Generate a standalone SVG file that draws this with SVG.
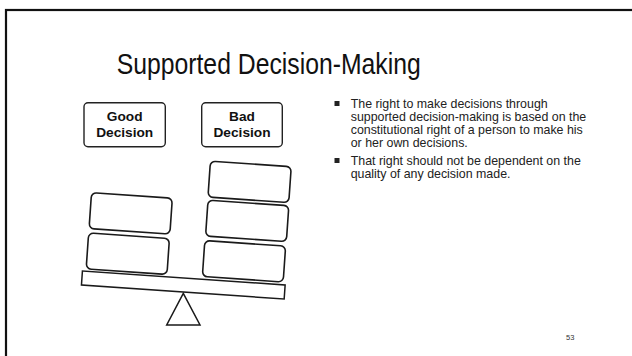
<svg xmlns="http://www.w3.org/2000/svg" width="632" height="356" viewBox="0 0 632 356">
  <style>
    .frame { fill: none; stroke: #111; stroke-width: 2.2; }
    .title { font-family: "Liberation Sans", Arial, sans-serif; font-size: 30px; fill: #111; }
    .label-box { fill: #fff; stroke: #222; stroke-width: 1.4; }
    .label { font-family: "Liberation Sans", Arial, sans-serif; font-size: 13.7px; font-weight: bold; fill: #111; text-anchor: middle; }
    .block { fill: #fff; stroke: #1a1a1a; stroke-width: 1.6; }
    .beam { fill: #fff; stroke: #1a1a1a; stroke-width: 1.5; }
    .body { font-family: "Liberation Sans", Arial, sans-serif; font-size: 12.4px; fill: #222; }
    .bullet { fill: #222; }
    .page { font-family: "Liberation Sans", Arial, sans-serif; font-size: 7.5px; fill: #333; }
  </style>

  <rect width="632" height="356" fill="#fff"/>
  <!-- slide frame, open to the right and bottom -->
  <rect class="frame" x="6" y="10" width="640" height="360"/>

  <text class="title" x="116.7" y="74" textLength="304" lengthAdjust="spacingAndGlyphs">Supported Decision-Making</text>

  <!-- scale labels -->
  <g id="good-decision">
    <rect class="label-box" x="84" y="102.7" width="81.3" height="44" rx="4"/>
    <text class="label" x="124.7" y="120.7">Good</text>
    <text class="label" x="124.7" y="136.7">Decision</text>
  </g>
  <g id="bad-decision">
    <rect class="label-box" x="201.7" y="102.7" width="80.6" height="44" rx="4"/>
    <text class="label" x="242" y="120.7">Bad</text>
    <text class="label" x="242" y="136.7">Decision</text>
  </g>

  <!-- balance: fulcrum, tilted beam, stacked weights -->
  <g id="fulcrum">
    <polygon class="beam" points="183.3,293.3 166.7,325 200,325"/>
  </g>
  <g id="beam">
    <rect class="beam" x="-101.6" y="-7" width="203.2" height="14" transform="translate(183.3,285) rotate(3.95)"/>
  </g>
  <g id="left-weight-1">
    <rect class="block" x="-40.5" y="-18" width="81" height="36" rx="5" transform="translate(127.8,253.7) rotate(3.95)"/>
  </g>
  <g id="left-weight-2">
    <rect class="block" x="-40.5" y="-18" width="81" height="36" rx="5" transform="translate(130.7,213.4) rotate(3.95)"/>
  </g>
  <g id="right-weight-1">
    <rect class="block" x="-40.5" y="-18" width="81" height="36" rx="5" transform="translate(244,261.3) rotate(3.95)"/>
  </g>
  <g id="right-weight-2">
    <rect class="block" x="-40.5" y="-18" width="81" height="36" rx="5" transform="translate(247.2,220.9) rotate(3.95)"/>
  </g>
  <g id="right-weight-3">
    <rect class="block" x="-40.5" y="-18" width="81" height="36" rx="5" transform="translate(249.6,181.9) rotate(3.95)"/>
  </g>

  <!-- bullet text -->
  <g id="bullets">
    <rect class="bullet" x="334.5" y="101" width="5" height="5"/>
    <text class="body" x="350.7" y="108">The right to make decisions through</text>
    <text class="body" x="350.7" y="121">supported decision-making is based on the</text>
    <text class="body" x="350.7" y="134">constitutional right of a person to make his</text>
    <text class="body" x="350.7" y="147">or her own decisions.</text>
    <rect class="bullet" x="334.5" y="158" width="5" height="5"/>
    <text class="body" x="350.7" y="165">That right should not be dependent on the</text>
    <text class="body" x="350.7" y="178">quality of any decision made.</text>
  </g>

  <text class="page" x="566" y="340">53</text>
</svg>
